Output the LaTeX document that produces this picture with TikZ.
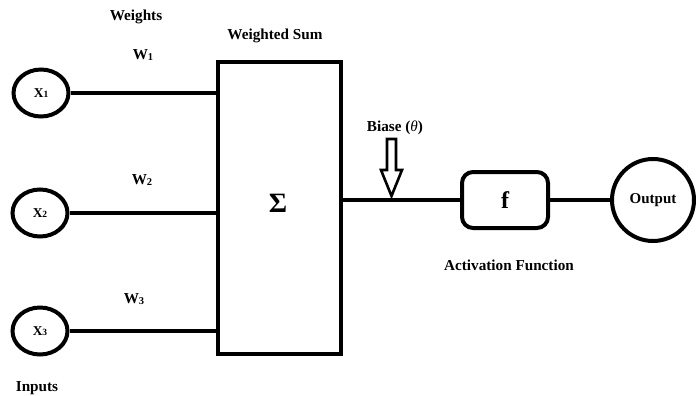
\documentclass[tikz,border=0pt]{standalone}
\usepackage{fontspec}
\setmainfont{Liberation Serif}
\usetikzlibrary{shapes.geometric,calc}
\begin{document}
\begin{tikzpicture}[x=1pt,y=-1pt,
  lbl/.style={font=\fontsize{15.2}{17}\selectfont\bfseries, inner sep=0pt},
  inp/.style={draw, line width=4pt, ellipse, inner sep=0pt, minimum width=55pt, minimum height=47pt, font=\fontsize{13.5}{15}\selectfont\bfseries},
  wire/.style={line width=3.5pt},
]
\useasboundingbox (0,0) rectangle (696,396);
\fill[white] (0,0) rectangle (696,396);

% inputs
\node[inp] (x1) at (41,93) {X\raisebox{-0.5pt}{\fontsize{9.5}{10}\selectfont 1}};
\node[inp] (x2) at (40,213) {X\raisebox{-0.5pt}{\fontsize{9.5}{10}\selectfont 2}};
\node[inp] (x3) at (40,331) {X\raisebox{-0.5pt}{\fontsize{9.5}{10}\selectfont 3}};

% summation box
\node[draw, line width=4pt, minimum width=123pt, minimum height=292pt, inner sep=0pt] (sum) at (279.5,208) {};
\node[inner sep=0pt, font=\fontsize{28}{30}\selectfont\bfseries] (sig) at (278,203) {Σ};

% activation box
\node[draw, line width=4pt, rounded corners=11pt, minimum width=86pt, minimum height=56pt, inner sep=0pt, font=\fontsize{24}{26}\selectfont\bfseries] (f) at (505,200) {f};

% output
\node[draw, circle, line width=4pt, minimum size=82pt, inner sep=0pt, font=\fontsize{15}{16}\selectfont\bfseries] (out) at (653,200) {Output};

% connectors
\draw[wire] (x1.east) -- (x1.east -| sum.west);
\draw[wire] (x2.east) -- (x2.east -| sum.west);
\draw[wire] (x3.east) -- (x3.east -| sum.west);
\draw[wire] (f.west -| sum.east) -- (f.west);
\draw[wire] (f.east) -- (out.west);

% bias arrow
\coordinate (b) at (391.5,139);
\draw[line width=2.6pt, line join=miter]
  ($(b)+(-4.5,0)$) -- ($(b)+(4.5,0)$) -- ($(b)+(4.5,31)$) -- ($(b)+(10.5,31)$)
  -- ($(b)+(0,57)$) -- ($(b)+(-10.5,31)$) -- ($(b)+(-4.5,31)$) -- cycle;

% labels
\node[lbl] (wts) at (136,17) {Weights};
\node[lbl] (wsum) at (275,36) {Weighted Sum};
\node[lbl] (w1) at (143,55) {W\raisebox{-0.5pt}{\fontsize{10.5}{11}\selectfont 1}};
\node[lbl] (w2) at (142,180) {W\raisebox{-0.5pt}{\fontsize{10.5}{11}\selectfont 2}};
\node[lbl] (w3) at (134,299) {W\raisebox{-0.5pt}{\fontsize{10.5}{11}\selectfont 3}};
\node[lbl] (inputs) at (37,388) {Inputs};
\node[lbl] (bias) at (395,128) {Biase ({\mdseries\itshape θ})};
\node[lbl] (act) at (509,265) {Activation Function};
\end{tikzpicture}
\end{document}
